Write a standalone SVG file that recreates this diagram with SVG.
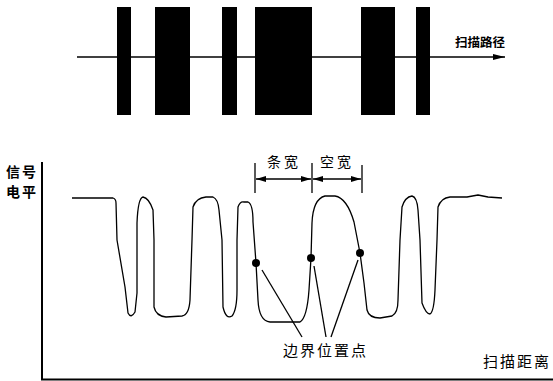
<svg xmlns="http://www.w3.org/2000/svg" width="553" height="381" viewBox="0 0 553 381">
<defs>
<style>
.bar{fill:#000}
.ln{stroke:#000;stroke-width:1.3;fill:none}
.ax{stroke:#000;stroke-width:2;fill:none}
.t{font-family:"Noto Sans CJK SC","Noto Sans CJK JP",sans-serif;fill:#000}
.dot{fill:#000}
</style>
<marker id="ah" viewBox="0 0 10 6" refX="10" refY="3" markerWidth="10" markerHeight="6" markerUnits="userSpaceOnUse" orient="auto-start-reverse">
<path d="M0,0 L10,3 L0,6 Z" fill="#000"/>
</marker>
<marker id="big" viewBox="0 0 12 6" refX="12" refY="3" markerWidth="12" markerHeight="6" markerUnits="userSpaceOnUse" orient="auto">
<path d="M0,0 L12,3 L0,6 Z" fill="#000"/>
</marker>
</defs>
<rect width="553" height="381" fill="#fff"/>
<g id="barcode">
<rect class="bar" x="117" y="7" width="14" height="108"/>
<rect class="bar" x="155" y="7" width="35" height="108"/>
<rect class="bar" x="222" y="7" width="15" height="108"/>
<rect class="bar" x="255" y="7" width="57" height="108"/>
<rect class="bar" x="361" y="7" width="34" height="108"/>
<rect class="bar" x="416" y="7" width="14" height="108"/>
</g>
<g id="scan-path">
<line class="ln" x1="77" y1="57" x2="505" y2="57" marker-end="url(#big)"/>
<text class="t" x="455" y="47" font-size="12.5" font-weight="bold">扫描路径</text>
</g>
<g id="axes">
<line class="ax" x1="42" y1="162" x2="42" y2="380"/>
<line class="ax" x1="41" y1="379.5" x2="553" y2="379.5"/>
<text class="t" x="6" y="177" font-size="14" letter-spacing="2" font-weight="bold">信号</text>
<text class="t" x="6" y="197" font-size="14" letter-spacing="2" font-weight="bold">电平</text>
<text class="t" x="483" y="367" font-size="15" letter-spacing="2">扫描距离</text>
</g>
<g id="signal">
<path class="ln" stroke-linejoin="round" d="M72,198 L113,198 Q116,199 116,203 L117,240 L125,287 L128,313 Q131,319 135,312 L137,293 L137,223 Q138,198 143,197 Q149,198 153,210 L154,240 L154,307 Q156,316 166,317 L182,316 Q189,315 190,300 L192,240 L193,207 Q196,198 206,197 L213,197 Q218,199 219,210 L222,240 L223,307 Q226,320 232,316 Q237,310 237,290 L237,240 L238,207 Q240,201 244,202 L248,202 Q253,204 253,222 L256,263 L258,300 Q259,321 270,322 L300,322 Q307,318 309,290 L311,258 L312,223 Q313,199 325,196 L335,196 Q347,198 354,222 L360,253 L364,283 L367,310 Q369,318 380,318 L392,316 Q398,313 398,300 L400,240 L402,207 Q405,197 412,196 Q417,197 418,210 L420,240 L422,303 Q426,314 430,314 Q434,312 435,290 L437,240 L438,207 Q441,198 450,197 L467,197 L478,195 L488,197 L502,198"/>
</g>
<g id="dimensions">
<line class="ln" x1="255" y1="163" x2="255" y2="193"/>
<line class="ln" x1="312" y1="163" x2="312" y2="193"/>
<line class="ln" x1="362" y1="165" x2="362" y2="193"/>
<line class="ln" x1="256" y1="179" x2="311" y2="179" marker-start="url(#ah)" marker-end="url(#ah)"/>
<line class="ln" x1="313" y1="179" x2="361" y2="179" marker-start="url(#ah)" marker-end="url(#ah)"/>
<text class="t" x="267" y="167" font-size="14" letter-spacing="3">条宽</text>
<text class="t" x="320" y="167" font-size="14" letter-spacing="3">空宽</text>
</g>
<g id="edge-points">
<circle class="dot" cx="256" cy="263" r="4"/>
<circle class="dot" cx="311" cy="258" r="4"/>
<circle class="dot" cx="360" cy="253" r="4"/>
<line class="ln" x1="262" y1="270" x2="302" y2="337"/>
<line class="ln" x1="314" y1="266" x2="326" y2="337"/>
<line class="ln" x1="358" y1="260" x2="331" y2="337"/>
<text class="t" x="283" y="356" font-size="15" letter-spacing="2">边界位置点</text>
</g>
</svg>
